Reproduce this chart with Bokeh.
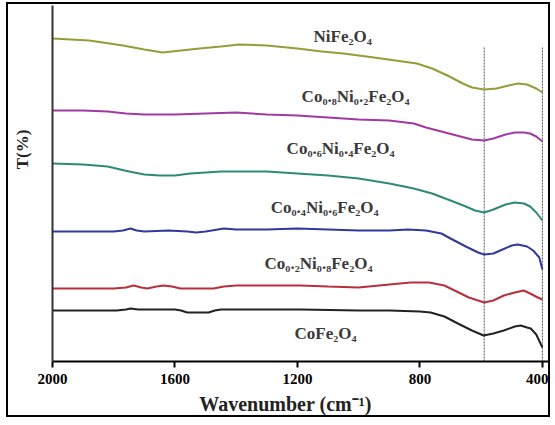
from bokeh.plotting import figure
from bokeh.models import Range1d, FixedTicker, Label
from bokeh.embed import file_html
from bokeh.resources import INLINE

# ---- data (wavenumber cm^-1, transmittance offset in arbitrary %) ----
ni_wn = [2000, 1880, 1770, 1700, 1640, 1580, 1520, 1450, 1390, 1300, 1200, 1120, 1050, 950, 880, 810, 760, 710, 660, 630, 590, 550, 510, 480, 450, 420, 400]
ni_t = [323, 321, 316, 312, 309, 311, 313, 315, 317, 316, 313, 310, 308, 304, 301, 298, 293, 286, 278, 274, 272, 273, 276, 278, 277, 273, 269]

co08_wn = [2000, 1900, 1820, 1760, 1700, 1600, 1500, 1400, 1300, 1200, 1100, 1000, 900, 820, 780, 730, 680, 630, 590, 560, 520, 490, 460, 440, 420, 400]
co08_t = [251, 251, 250, 248, 247, 247, 248, 249, 247, 246, 244, 242, 241, 238, 234, 230, 226, 222, 221, 223, 227, 229, 229, 228, 225, 220]

co06_wn = [2000, 1900, 1820, 1750, 1700, 1650, 1600, 1550, 1450, 1350, 1300, 1200, 1100, 1000, 900, 820, 760, 700, 650, 620, 590, 560, 520, 490, 460, 440, 420, 400]
co06_t = [198, 197, 195, 190, 187, 186, 186, 188, 190, 190, 190, 188, 186, 183, 178, 173, 168, 161, 155, 151, 149, 152, 157, 159, 158, 155, 149, 141]

co04_wn = [2000, 1800, 1770, 1745, 1725, 1700, 1620, 1560, 1530, 1500, 1460, 1440, 1400, 1300, 1200, 1100, 1000, 900, 840, 780, 730, 700, 650, 610, 590, 560, 530, 500, 480, 450, 430, 410, 400]
co04_t = [130, 130, 131, 133, 131, 130, 131, 130, 129, 130, 132, 133, 132, 132, 133, 132, 131, 131, 132, 131, 128, 123, 115, 109, 107, 108, 112, 116, 117, 115, 111, 104, 92]

co02_wn = [2000, 1800, 1760, 1735, 1710, 1690, 1660, 1637, 1610, 1582, 1500, 1474, 1440, 1400, 1300, 1190, 1100, 1000, 900, 830, 770, 720, 680, 640, 600, 590, 560, 526, 490, 461, 440, 415, 400]
co02_t = [73, 73, 74, 76, 74, 73, 75, 76, 75, 73, 73, 73, 75, 76, 76, 76, 75, 74, 77, 79, 79, 76, 70, 64, 60, 59, 61, 66, 69, 71, 68, 64, 62]

co_wn = [2000, 1790, 1760, 1745, 1720, 1600, 1580, 1560, 1520, 1490, 1470, 1450, 1300, 1190, 1000, 900, 800, 765, 720, 676, 630, 592, 560, 526, 490, 471, 450, 438, 420, 400]
co_t = [51, 51, 52, 53, 52, 52, 51, 49, 49, 49, 51, 52, 52, 52, 51, 51, 50, 49, 45, 38, 31, 26, 28, 31, 35, 36, 34, 33, 27, 14]

series_names = ["NiFe₂O₄", "Co₀.₈Ni₀.₂Fe₂O₄", "Co₀.₆Ni₀.₄Fe₂O₄",
                "Co₀.₄Ni₀.₆Fe₂O₄", "Co₀.₂Ni₀.₈Fe₂O₄", "CoFe₂O₄"]
series_wn = [ni_wn, co08_wn, co06_wn, co04_wn, co02_wn, co_wn]
series_t = [ni_t, co08_t, co06_t, co04_t, co02_t, co_t]
series_colors = ["#959c3a", "#a03aa0", "#2e8a78", "#2f3a9a", "#b8303c", "#222222"]

label_wn = [1052, 1010, 1059, 1111, 1131, 1108]
label_t = [325, 265, 213, 154, 98, 28]

band_wn = [590, 400]
band_top = 314

x_ticks = [2000, 1600, 1200, 800, 400]

SERIF = "Liberation Serif"

p = figure(width=544, height=415, output_backend="svg", toolbar_location=None,
           x_range=Range1d(2000, 380), y_range=Range1d(0, 356),
           min_border_left=44, min_border_right=4, min_border_top=1,
           min_border_bottom=58)
p.styles = {"margin-left": "6px", "margin-top": "2px", "border": "2px solid black"}
p.outline_line_color = None
p.xgrid.visible = False
p.ygrid.visible = False

p.xaxis.ticker = FixedTicker(ticks=x_ticks)
p.xaxis.minor_tick_line_color = None
p.xaxis.major_tick_in = 0
p.xaxis.major_tick_out = 6
p.xaxis.major_tick_line_width = 2
p.xaxis.axis_line_width = 2
p.xaxis.axis_line_color = "black"
p.xaxis.major_label_text_font = SERIF
p.xaxis.major_label_text_font_style = "bold"
p.xaxis.major_label_text_font_size = "15px"
p.xaxis.major_label_text_color = "black"
p.xaxis.major_label_standoff = 6
p.xaxis.axis_label = "Wavenumber (cm⁻¹)\u2003\u2002"
p.xaxis.axis_label_text_font = SERIF
p.xaxis.axis_label_text_font_style = "bold"
p.xaxis.axis_label_text_font_size = "20px"
p.xaxis.axis_label_text_color = "#222222"
p.xaxis.axis_label_standoff = 6

p.yaxis.ticker = FixedTicker(ticks=[])
p.yaxis.major_tick_line_color = None
p.yaxis.minor_tick_line_color = None
p.yaxis.axis_line_width = 2
p.yaxis.axis_line_color = "#333333"
p.yaxis.axis_label = "\u2003\u2003\u2003\u2003T(%)"
p.yaxis.axis_label_text_font = SERIF
p.yaxis.axis_label_text_font_style = "bold"
p.yaxis.axis_label_text_font_size = "17px"
p.yaxis.axis_label_text_color = "#222222"
p.yaxis.axis_label_standoff = 21

# dotted reference lines
p.segment(x0=band_wn, x1=band_wn, y0=[0] * len(band_wn), y1=[band_top] * len(band_wn),
          line_color="#555555", line_width=1, line_dash="2 1")

for wn, t, c in zip(series_wn, series_t, series_colors):
    p.line(wn, t, line_color=c, line_width=2)

for name, lx, ly in zip(series_names, label_wn, label_t):
    p.add_layout(Label(x=lx, y=ly, text=name, text_font=SERIF, text_font_style="bold",
                       text_font_size="17px", text_color="#3a3a3a",
                       text_align="center", text_baseline="middle"))

open("out.html", "w").write(file_html(p, INLINE))
